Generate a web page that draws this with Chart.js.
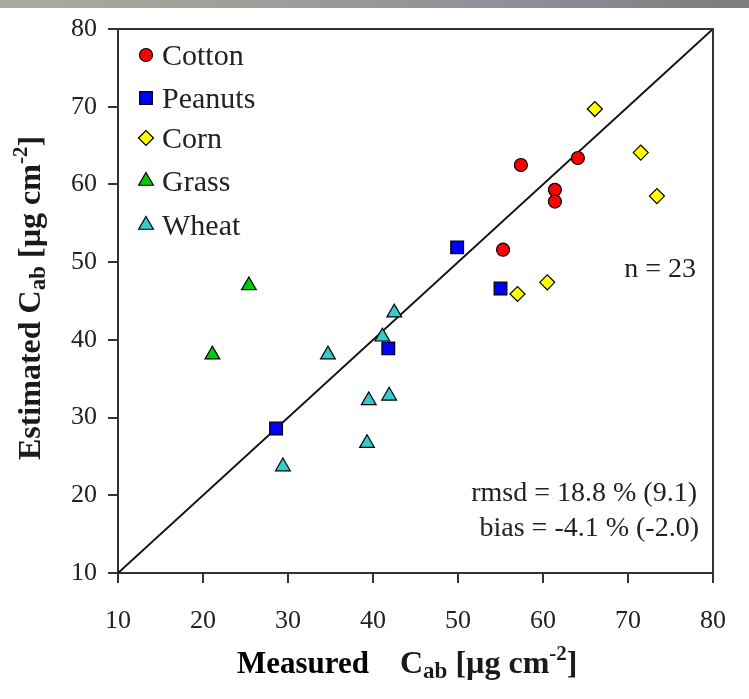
<!DOCTYPE html>
<html>
<head>
<meta charset="utf-8">
<title>Estimated vs Measured Cab</title>
<script src="https://cdn.jsdelivr.net/npm/chart.js@4.4.1/dist/chart.umd.min.js"></script>
<style>
    body { margin: 0; background: #ffffff; }
    #wrap { position: relative; width: 749px; height: 699px; }
    /* strip van de achtergrondfoto bovenaan */
    #band { position: absolute; left: 0; top: 0; width: 749px; height: 8px;
            background: linear-gradient(90deg, #a9aaa0 0%, #9c9c98 40%, #8e8e9a 70%, #7c7c7c 100%); }
    canvas { position: absolute; left: 0; top: 0; }
</style>
</head>
<body>
<div id="wrap">
    <canvas id="cabChart" width="749" height="699"></canvas>
    <div id="band"></div>
</div>
<script>
// Data
const cottonX  = [57.4, 64.1, 61.4, 61.4, 55.3];
const cottonY  = [62.5, 63.4, 59.3, 57.8, 51.6];
const peanutsX = [49.9, 55.0, 41.8, 28.6];
const peanutsY = [51.9, 46.6, 38.9, 28.6];
const cornX    = [66.1, 71.5, 73.4, 60.5, 57.0];
const cornY    = [69.7, 64.1, 58.5, 47.4, 45.9];
const grassX   = [25.4, 21.1];
const grassY   = [47.0, 38.1];
const wheatX   = [42.5, 41.1, 34.7, 39.5, 41.9, 39.3, 29.4];
const wheatY   = [43.5, 40.4, 38.1, 32.2, 32.8, 26.7, 23.7];

// 1:1 lijn
const lineX = [10, 80];
const lineY = [10, 80];

// as-ticks
const tickValues = [10, 20, 30, 40, 50, 60, 70, 80];

// teksten
const statLines = ['n = 23', 'rmsd = 18.8 % (9.1)', 'bias = -4.1 % (-2.0)'];

const serif = "'Liberation Serif', 'DejaVu Serif', serif";

// punten samenvoegen tot {x, y}
function toPoints(xs, ys) {
    return xs.map((x, i) => ({ x: x, y: ys[i] }));
}

const series = [
    { label: 'Cotton',  x: cottonX,  y: cottonY,  style: 'circle',   radius: 6.5, color: '#ff0000' },
    { label: 'Peanuts', x: peanutsX, y: peanutsY, style: 'rect',     radius: 9,   color: '#0000ff' },
    { label: 'Corn',    x: cornX,    y: cornY,    style: 'rectRot',  radius: 7.5, color: '#ffff00' },
    { label: 'Grass',   x: grassX,   y: grassY,   style: 'triangle', radius: 8.5, color: '#00cc00' },
    { label: 'Wheat',   x: wheatX,   y: wheatY,   style: 'triangle', radius: 8.5, color: '#33cccc' },
];

const datasets = series.map(s => ({
    label: s.label,
    data: toPoints(s.x, s.y),
    pointStyle: s.style,
    pointRadius: s.radius,
    pointHoverRadius: s.radius,
    pointBackgroundColor: s.color,
    pointBorderColor: '#000000',
    pointBorderWidth: 1.2,
    showLine: false,
    order: 1,
}));

datasets.push({
    label: '1:1',
    data: toPoints(lineX, lineY),
    showLine: true,
    borderColor: '#111111',
    borderWidth: 2,
    pointRadius: 0,
    order: 5,
});

// tekst met sub- en superscript tekenen
function drawRich(ctx, parts, x, y) {
    let cx = x;
    parts.forEach(p => {
        if (p.gap) { cx += p.gap; return; }
        ctx.font = 'bold ' + p.size + 'px ' + serif;
        ctx.fillText(p.t, cx, y + (p.dy || 0));
        cx += ctx.measureText(p.t).width;
    });
}

function richWidth(ctx, parts) {
    let w = 0;
    parts.forEach(p => {
        if (p.gap) { w += p.gap; return; }
        ctx.font = 'bold ' + p.size + 'px ' + serif;
        w += ctx.measureText(p.t).width;
    });
    return w;
}

const unitParts = [
    { t: 'C', size: 32 },
    { t: 'ab', size: 23, dy: 7 },
    { t: ' [\u00b5g cm', size: 32 },
    { t: '-2', size: 21, dy: -10 },
    { t: ']', size: 32 },
];

// plugin: kader, legenda, teksten en astitels
const decorPlugin = {
    id: 'decor',
    afterDraw(chart) {
        const ctx = chart.ctx;
        const a = chart.chartArea;
        ctx.save();

        // boven- en rechterrand
        ctx.strokeStyle = '#333333';
        ctx.lineWidth = 2;
        ctx.beginPath();
        ctx.moveTo(a.left, a.top);
        ctx.lineTo(a.right, a.top);
        ctx.lineTo(a.right, a.bottom);
        ctx.stroke();

        // legenda linksboven
        const rowsY = [57, 100, 140, 183, 227];
        series.forEach((s, i) => {
            ctx.fillStyle = s.color;
            ctx.strokeStyle = '#000000';
            ctx.lineWidth = 1.2;
            Chart.helpers.drawPoint(ctx, { pointStyle: s.style, radius: s.radius, rotation: 0, borderWidth: 1.2 }, 146, rowsY[i] - 2);
            ctx.fillStyle = '#222222';
            ctx.font = '30px ' + serif;
            ctx.textAlign = 'left';
            ctx.textBaseline = 'middle';
            ctx.fillText(s.label, 162, rowsY[i]);
        });

        // statistiek
        ctx.fillStyle = '#222222';
        ctx.font = '28px ' + serif;
        ctx.textAlign = 'right';
        ctx.textBaseline = 'middle';
        ctx.fillText(statLines[0], 696, 270);
        ctx.fillText(statLines[1], 697, 494);
        ctx.fillText(statLines[2], 699, 529);

        // x-as titel
        ctx.fillStyle = '#000000';
        ctx.textAlign = 'left';
        ctx.textBaseline = 'middle';
        ctx.font = 'bold 31px ' + serif;
        ctx.fillText('Measured', 237, 665);
        ctx.fillStyle = '#1a1a1a';
        drawRich(ctx, unitParts, 400, 665);

        // y-as titel (gedraaid)
        const yParts = [{ t: 'Estimated ', size: 32 }].concat(unitParts);
        const w = richWidth(ctx, yParts);
        ctx.translate(32, 298);
        ctx.rotate(-Math.PI / 2);
        drawRich(ctx, yParts, -w / 2, 0);

        ctx.restore();
    }
};

// Inisialisasi chart
const ctxCab = document.getElementById('cabChart').getContext('2d');
let cabChart = new Chart(ctxCab, {
    type: 'scatter',
    data: { datasets: datasets },
    options: {
        responsive: false,
        animation: false,
        layout: { padding: { top: 29, right: 34, left: 0, bottom: 0 } },
        plugins: {
            legend: { display: false },
            tooltip: { enabled: false },
        },
        scales: {
            x: {
                type: 'linear',
                min: 10,
                max: 80,
                afterBuildTicks: axis => { axis.ticks = tickValues.map(v => ({ value: v })); },
                afterFit: scale => { scale.height = 126; },
                ticks: {
                    color: '#222222',
                    font: { family: serif, size: 26 },
                    padding: 23,
                    maxRotation: 0,
                },
                grid: {
                    drawOnChartArea: false,
                    drawTicks: true,
                    tickLength: 10,
                    color: '#333333',
                    lineWidth: 2,
                },
                border: { display: true, color: '#333333', width: 2 },
            },
            y: {
                type: 'linear',
                min: 10,
                max: 80,
                afterBuildTicks: axis => { axis.ticks = tickValues.map(v => ({ value: v })); },
                afterFit: scale => { scale.width = 118; },
                ticks: {
                    color: '#222222',
                    font: { family: serif, size: 26 },
                    padding: 11,
                },
                grid: {
                    drawOnChartArea: false,
                    drawTicks: true,
                    tickLength: 10,
                    color: '#333333',
                    lineWidth: 2,
                },
                border: { display: true, color: '#333333', width: 2 },
            },
        },
    },
    plugins: [decorPlugin],
});
</script>
</body>
</html>
